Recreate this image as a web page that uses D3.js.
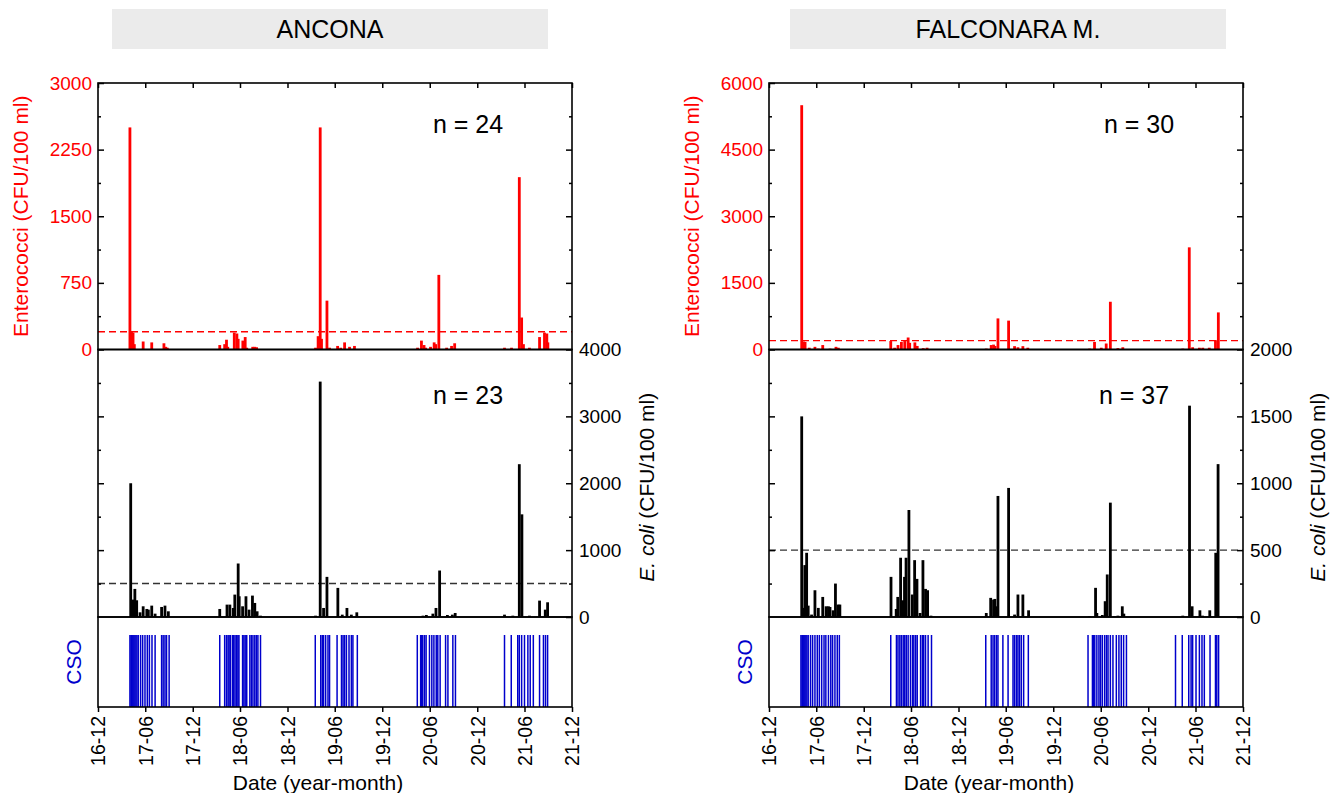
<!DOCTYPE html>
<html>
<head>
<meta charset="utf-8">
<script src="https://cdn.jsdelivr.net/npm/d3@7"></script>
<style>
body { margin: 0; background: #fff; font-family: Arial, "Liberation Sans", sans-serif; }
</style>
</head>
<body>
<svg id="chart" width="1330" height="793"></svg>
<script>
// ---- data ----
const xTickDates = ["2016-12-01","2017-06-01","2017-12-01","2018-06-01","2018-12-01","2019-06-01",
    "2019-12-01","2020-06-01","2020-12-01","2021-06-01","2021-12-01"];
const xTickLabels = ["16-12","17-06","17-12","18-06","18-12","19-06","19-12","20-06","20-12","21-06","21-12"];

// ANCONA
const ancEntTicks = [0, 750, 1500, 2250, 3000];
const ancEcoTicks = [0, 1000, 2000, 3000, 4000];
const ancEntDates = ["2017-04-03","2017-04-09","2017-04-15","2017-04-20","2017-05-24","2017-06-26","2017-08-12","2017-08-19","2017-08-25",
    "2018-03-15","2018-04-03","2018-04-10","2018-04-15","2018-05-10","2018-05-20","2018-05-25","2018-06-12","2018-06-21","2018-06-27","2018-07-20","2018-07-28","2018-08-04",
    "2019-03-19","2019-03-29","2019-04-06","2019-04-11","2019-05-02","2019-05-12","2019-06-12","2019-06-24","2019-07-09","2019-07-28","2019-08-16",
    "2020-04-15","2020-04-30","2020-05-10","2020-05-16","2020-06-04","2020-06-18","2020-06-24","2020-07-06","2020-08-05","2020-08-24","2020-09-05",
    "2021-03-16","2021-04-12","2021-05-12","2021-05-21","2021-05-28","2021-06-20","2021-07-29","2021-08-17","2021-08-26","2021-08-30"];
const ancEntValues = [2500, 200, 190, 60, 90, 80, 70, 30, 20,
    50, 60, 110, 30, 190, 180, 120, 100, 140, 20, 30, 30, 25,
    20, 150, 2500, 120, 550, 20, 40, 20, 80, 30, 40,
    20, 100, 50, 20, 30, 80, 60, 840, 20, 40, 70,
    20, 20, 1940, 360, 60, 20, 140, 190, 180, 80];
const ancEcoDates = ["2017-04-06","2017-04-16","2017-04-22","2017-04-29","2017-05-12","2017-05-24","2017-06-07","2017-06-13","2017-06-26","2017-07-09","2017-08-03","2017-08-16","2017-08-29",
    "2018-03-15","2018-04-12","2018-04-23","2018-05-06","2018-05-12","2018-05-25","2018-05-29","2018-06-11","2018-06-24","2018-07-06","2018-07-19","2018-07-28","2018-08-06","2018-08-19",
    "2019-03-19","2019-04-06","2019-04-19","2019-05-02","2019-06-13","2019-06-30","2019-07-18","2019-08-04","2019-08-25",
    "2020-05-06","2020-05-19","2020-06-13","2020-06-25","2020-07-09","2020-08-08","2020-08-27","2020-09-07",
    "2021-03-16","2021-04-17","2021-05-12","2021-05-22","2021-06-20","2021-07-29","2021-08-20","2021-08-29"];
const ancEcoValues = [2000, 260, 420, 250, 70, 160, 120, 110, 170, 50, 150, 170, 85,
    120, 185, 185, 135, 335, 800, 310, 160, 310, 110, 320, 210, 85, 20,
    20, 3520, 135, 600, 435, 35, 135, 35, 70,
    20, 30, 50, 135, 695, 30, 35, 60,
    35, 20, 2285, 1535, 20, 245, 110, 220];
const ancCsoDates = ["2017-04-03","2017-04-07","2017-04-10","2017-04-14","2017-04-18","2017-04-22","2017-04-26","2017-04-30","2017-05-05","2017-05-14","2017-05-22","2017-05-31","2017-06-09","2017-06-17","2017-06-27","2017-07-09","2017-08-03","2017-08-09","2017-08-16","2017-08-22","2017-09-01",
    "2018-03-15","2018-04-03","2018-04-10","2018-04-16","2018-04-20","2018-04-25","2018-05-03","2018-05-08","2018-05-13","2018-05-19","2018-05-24","2018-05-28","2018-06-11","2018-06-16","2018-06-21","2018-06-27","2018-07-09","2018-07-15","2018-07-21","2018-07-28","2018-08-03","2018-08-09","2018-08-19",
    "2019-03-18","2019-04-08","2019-04-14","2019-04-19","2019-04-27","2019-05-06","2019-05-12","2019-06-10","2019-06-27","2019-07-03","2019-07-09","2019-07-16","2019-07-26","2019-08-04","2019-08-10","2019-08-27",
    "2020-04-14","2020-04-27","2020-05-01","2020-05-05","2020-05-12","2020-05-18","2020-05-31","2020-06-09","2020-06-17","2020-06-26","2020-07-02","2020-07-11","2020-08-01","2020-08-10","2020-08-29","2020-09-08",
    "2021-03-16","2021-04-11","2021-05-06","2021-05-12","2021-05-21","2021-06-01","2021-06-14","2021-06-23","2021-07-05","2021-07-29","2021-08-13","2021-08-21","2021-08-29"];

// FALCONARA M.
const falEntTicks = [0, 1500, 3000, 4500, 6000];
const falEcoTicks = [0, 500, 1000, 1500, 2000];
const falEntDates = ["2017-04-06","2017-04-13","2017-04-19","2017-05-05","2017-05-27","2017-06-09","2017-06-26","2017-07-24","2017-08-16","2017-08-25",
    "2018-03-15","2018-03-30","2018-04-12","2018-04-25","2018-05-08","2018-05-21","2018-05-27","2018-06-16","2018-06-25","2018-07-18","2018-08-02",
    "2019-03-18","2019-04-06","2019-04-15","2019-04-21","2019-05-02","2019-06-12","2019-07-05","2019-07-18","2019-08-06","2019-08-25",
    "2020-04-19","2020-05-08","2020-06-03","2020-06-22","2020-07-08","2020-08-06","2020-08-25",
    "2021-04-13","2021-05-08","2021-05-21","2021-06-16","2021-06-29","2021-07-24","2021-08-17","2021-08-28"];
const falEntValues = [5500, 180, 170, 40, 60, 20, 100, 20, 60, 40,
    190, 40, 100, 170, 190, 270, 150, 160, 80, 30, 40,
    20, 100, 110, 80, 700, 650, 75, 50, 75, 40,
    20, 170, 40, 135, 1075, 30, 50,
    20, 2300, 50, 40, 40, 40, 210, 835];
const falEcoDates = ["2017-04-06","2017-04-15","2017-04-18","2017-04-25","2017-05-01","2017-05-14","2017-05-27","2017-06-09","2017-06-26","2017-07-09","2017-07-18","2017-07-24","2017-08-05","2017-08-14","2017-08-24","2017-08-31",
    "2018-03-16","2018-04-05","2018-04-11","2018-04-22","2018-04-30","2018-05-07","2018-05-13","2018-05-24","2018-06-06","2018-06-15","2018-06-24","2018-07-06","2018-07-17","2018-07-27","2018-08-04","2018-08-17",
    "2019-03-18","2019-04-04","2019-04-15","2019-04-20","2019-04-27","2019-05-02","2019-06-12","2019-07-05","2019-07-18","2019-08-06","2019-08-28",
    "2020-04-19","2020-05-12","2020-05-17","2020-06-07","2020-06-18","2020-06-26","2020-07-08","2020-07-24","2020-08-06","2020-08-23","2020-08-29",
    "2021-04-13","2021-05-09","2021-05-19","2021-06-18","2021-06-28","2021-07-26","2021-08-18","2021-08-27"];
const falEcoValues = [1500, 68, 388, 480, 85, 18, 200, 68, 150, 80, 80, 75, 50, 250, 93, 93,
    300, 60, 150, 443, 125, 300, 443, 800, 168, 425, 285, 30, 425, 210, 200, 10,
    30, 143, 130, 135, 80, 905, 965, 18, 168, 168, 50,
    5, 218, 30, 15, 118, 318, 855, 5, 10, 80, 25,
    10, 1580, 80, 50, 10, 50, 480, 1143];
const falCsoDates = ["2017-04-03","2017-04-07","2017-04-10","2017-04-14","2017-04-18","2017-04-22","2017-04-26","2017-05-01","2017-05-10","2017-05-18","2017-05-27","2017-06-05","2017-06-13","2017-06-22","2017-07-01","2017-07-08","2017-07-18","2017-07-27","2017-08-03","2017-08-12","2017-08-21","2017-08-29",
    "2018-03-15","2018-04-06","2018-04-12","2018-04-19","2018-04-25","2018-05-02","2018-05-08","2018-05-14","2018-05-21","2018-05-30","2018-06-07","2018-06-12","2018-06-19","2018-06-25","2018-07-08","2018-07-15","2018-07-20","2018-07-27","2018-08-06","2018-08-19",
    "2019-03-16","2019-04-06","2019-04-13","2019-04-19","2019-04-26","2019-05-02","2019-05-21","2019-06-10","2019-06-29","2019-07-05","2019-07-12","2019-07-18","2019-07-24","2019-07-31","2019-08-09","2019-08-27",
    "2020-04-13","2020-04-30","2020-05-04","2020-05-09","2020-05-17","2020-05-25","2020-05-31","2020-06-07","2020-06-16","2020-06-23","2020-06-29","2020-07-08","2020-07-18","2020-07-31","2020-08-10","2020-08-19","2020-08-28","2020-09-08",
    "2021-03-16","2021-04-11","2021-05-06","2021-05-15","2021-05-21","2021-06-03","2021-06-16","2021-06-26","2021-07-05","2021-07-27","2021-08-17","2021-08-22","2021-08-29"];

// ---- layout ----
const parseDate = d3.timeParse("%Y-%m-%d");
const PLOT_W = 474;
const TOP = 83, MID = 349.5, BOT = 617, CSO_TOP = 635, CSO_BOT = 707;
const RED = "#ff0000", BLUE = "#0000cc";

const svg = d3.select("#chart");

function minorsOf(ticks) {
    const out = [];
    for (let i = 0; i < ticks.length - 1; i++) out.push((ticks[i] + ticks[i + 1]) / 2);
    return out;
}

function styleAxis(sel, color, size = 19) {
    sel.select(".domain").remove();
    sel.selectAll("line").attr("stroke", "#000").attr("stroke-width", 1.5);
    sel.selectAll("text").attr("fill", color).style("font-size", size + "px")
        .style("font-family", "Arial, 'Liberation Sans', sans-serif");
}

function drawSite(s) {
    const g = svg.append("g");
    const left = s.left, right = s.left + PLOT_W;

    const x = d3.scaleTime()
        .domain([parseDate("2016-12-01"), parseDate("2021-12-01")])
        .range([left, right]);
    const yEnt = d3.scaleLinear().domain([0, d3.max(s.entTicks)]).range([MID, TOP]);
    const yEco = d3.scaleLinear().domain([0, d3.max(s.ecoTicks)]).range([BOT, MID]);

    // title box
    g.append("rect")
        .attr("x", s.titleX - 218).attr("y", 9)
        .attr("width", 436).attr("height", 40)
        .attr("fill", "#ebebeb");
    g.append("text")
        .attr("x", s.titleX).attr("y", 38)
        .attr("text-anchor", "middle")
        .style("font-size", "25px")
        .text(s.title);

    // dashed guideline values
    g.append("line")
        .attr("x1", left).attr("x2", right)
        .attr("y1", yEnt(s.entLimit)).attr("y2", yEnt(s.entLimit))
        .attr("stroke", RED).attr("stroke-width", 1.4)
        .attr("stroke-dasharray", "7,4");
    g.append("line")
        .attr("x1", left).attr("x2", right)
        .attr("y1", yEco(s.ecoLimit)).attr("y2", yEco(s.ecoLimit))
        .attr("stroke", "#333").attr("stroke-width", 1.4)
        .attr("stroke-dasharray", "7,4");

    // enterococci bars
    g.append("g").selectAll("rect")
        .data(d3.zip(s.entDates, s.entValues))
        .join("rect")
        .attr("x", d => x(parseDate(d[0])) - 1.4)
        .attr("width", 2.8)
        .attr("y", d => yEnt(d[1]))
        .attr("height", d => yEnt(0) - yEnt(d[1]))
        .attr("fill", RED);

    // E. coli bars
    g.append("g").selectAll("rect")
        .data(d3.zip(s.ecoDates, s.ecoValues))
        .join("rect")
        .attr("x", d => x(parseDate(d[0])) - 1.4)
        .attr("width", 2.8)
        .attr("y", d => yEco(d[1]))
        .attr("height", d => yEco(0) - yEco(d[1]))
        .attr("fill", "#000");

    // CSO events
    g.append("g").selectAll("line")
        .data(s.csoDates)
        .join("line")
        .attr("x1", d => x(parseDate(d))).attr("x2", d => x(parseDate(d)))
        .attr("y1", CSO_TOP).attr("y2", CSO_BOT)
        .attr("stroke", BLUE).attr("stroke-width", 1.5);

    const tickDates = xTickDates.map(parseDate);
    const fmt = d3.format("d");

    // top border ticks
    g.append("g").attr("transform", `translate(0,${TOP})`)
        .call(d3.axisTop(x).tickValues(tickDates).tickSize(-5).tickFormat(""))
        .call(a => styleAxis(a, "#000"));

    // enterococci axis (left, red labels)
    g.append("g").attr("transform", `translate(${left},0)`)
        .call(d3.axisLeft(yEnt).tickValues(s.entTicks).tickSize(-6).tickPadding(6).tickFormat(fmt))
        .call(a => styleAxis(a, RED));
    g.append("g").attr("transform", `translate(${left},0)`)
        .call(d3.axisLeft(yEnt).tickValues(minorsOf(s.entTicks)).tickSize(-3).tickFormat(""))
        .call(a => styleAxis(a, RED));
    g.append("g").attr("transform", `translate(${right},0)`)
        .call(d3.axisRight(yEnt).tickValues(s.entTicks.slice(1, -1)).tickSize(-6).tickFormat(""))
        .call(a => styleAxis(a, "#000"));
    g.append("g").attr("transform", `translate(${right},0)`)
        .call(d3.axisRight(yEnt).tickValues(minorsOf(s.entTicks)).tickSize(-3).tickFormat(""))
        .call(a => styleAxis(a, "#000"));

    // E. coli axis (right, black labels)
    g.append("g").attr("transform", `translate(${right},0)`)
        .call(d3.axisRight(yEco).tickValues(s.ecoTicks).tickSize(-6).tickPadding(7).tickFormat(fmt))
        .call(a => styleAxis(a, "#000"));
    g.append("g").attr("transform", `translate(${right},0)`)
        .call(d3.axisRight(yEco).tickValues(minorsOf(s.ecoTicks)).tickSize(-3).tickFormat(""))
        .call(a => styleAxis(a, "#000"));
    g.append("g").attr("transform", `translate(${left},0)`)
        .call(d3.axisLeft(yEco).tickValues(s.ecoTicks.slice(1, -1)).tickSize(-6).tickFormat(""))
        .call(a => styleAxis(a, "#000"));
    g.append("g").attr("transform", `translate(${left},0)`)
        .call(d3.axisLeft(yEco).tickValues(minorsOf(s.ecoTicks)).tickSize(-3).tickFormat(""))
        .call(a => styleAxis(a, "#000"));

    // bottom date axis
    g.append("g").attr("transform", `translate(0,${CSO_BOT})`)
        .call(d3.axisBottom(x).tickValues(tickDates).tickSize(5).tickFormat((d, i) => xTickLabels[i]))
        .call(a => styleAxis(a, "#000", 19.5))
        .call(a => a.selectAll("text")
            .attr("transform", "rotate(-90)")
            .attr("text-anchor", "end")
            .attr("x", -9).attr("y", 0).attr("dy", "0.35em"));

    // panel frames
    [[TOP, MID], [MID, BOT], [BOT, CSO_BOT]].forEach(([y0, y1]) => {
        g.append("rect")
            .attr("x", left).attr("y", y0)
            .attr("width", PLOT_W).attr("height", y1 - y0)
            .attr("fill", "none").attr("stroke", "#000").attr("stroke-width", 1.6);
    });

    // sample counts
    g.append("text").attr("x", s.nEntX).attr("y", 133)
        .attr("text-anchor", "middle").style("font-size", "25px").text(s.nEnt);
    g.append("text").attr("x", s.nEcoX).attr("y", 404)
        .attr("text-anchor", "middle").style("font-size", "25px").text(s.nEco);

    // axis titles
    g.append("text")
        .attr("transform", `translate(${left - 70},${(TOP + MID) / 2}) rotate(-90)`)
        .attr("text-anchor", "middle").attr("fill", RED)
        .style("font-size", "21px")
        .text("Enterococci (CFU/100 ml)");
    const ecoTitle = g.append("text")
        .attr("transform", `translate(${right + 75},${(MID + BOT) / 2 + 4}) rotate(-90)`)
        .attr("text-anchor", "middle")
        .attr("dy", "0.35em")
        .style("font-size", "21px");
    ecoTitle.append("tspan").style("font-style", "italic").text("E. coli");
    ecoTitle.append("tspan").text(" (CFU/100 ml)");
    g.append("text")
        .attr("transform", `translate(${left - 17},${(BOT + CSO_BOT) / 2}) rotate(-90)`)
        .attr("text-anchor", "middle").attr("fill", BLUE)
        .style("font-size", "21px")
        .text("CSO");
    g.append("text")
        .attr("x", (left + right) / 2 - 17).attr("y", 790)
        .attr("text-anchor", "middle")
        .style("font-size", "21px")
        .text("Date (year-month)");
}

drawSite({
    left: 98, title: "ANCONA", titleX: 330,
    entTicks: ancEntTicks, ecoTicks: ancEcoTicks,
    entDates: ancEntDates, entValues: ancEntValues,
    ecoDates: ancEcoDates, ecoValues: ancEcoValues,
    csoDates: ancCsoDates,
    entLimit: 200, ecoLimit: 500,
    nEnt: "n = 24", nEco: "n = 23", nEntX: 468, nEcoX: 468
});
drawSite({
    left: 769, title: "FALCONARA M.", titleX: 1008,
    entTicks: falEntTicks, ecoTicks: falEcoTicks,
    entDates: falEntDates, entValues: falEntValues,
    ecoDates: falEcoDates, ecoValues: falEcoValues,
    csoDates: falCsoDates,
    entLimit: 200, ecoLimit: 500,
    nEnt: "n = 30", nEco: "n = 37", nEntX: 1139, nEcoX: 1134
});
</script>
</body>
</html>
